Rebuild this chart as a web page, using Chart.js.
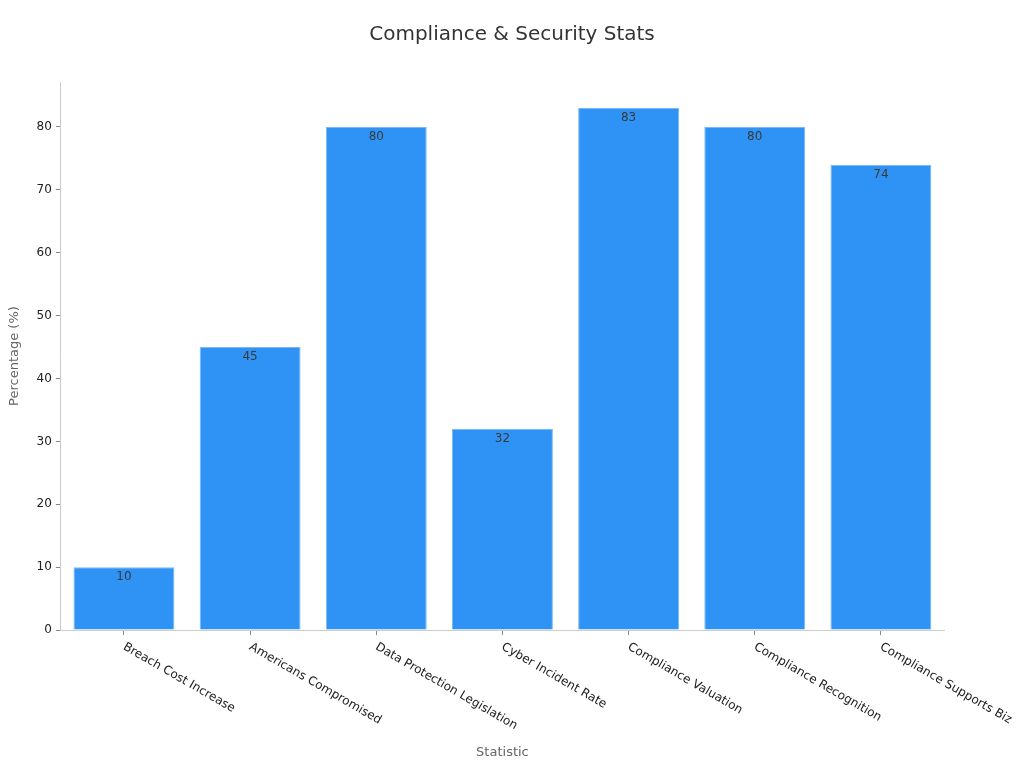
<!DOCTYPE html>
<html>
<head>
<meta charset="utf-8">
<script src="https://cdn.jsdelivr.net/npm/chart.js@4.4.1/dist/chart.umd.min.js"></script>
<style>
  html, body { margin: 0; padding: 0; background: #fff; }
  #wrap { width: 1024px; height: 768px; }
</style>
</head>
<body>
<div id="wrap"><canvas id="chart"></canvas></div>
<script>
const categories = [
  'Breach Cost Increase',
  'Americans Compromised',
  'Data Protection Legislation',
  'Cyber Incident Rate',
  'Compliance Valuation',
  'Compliance Recognition',
  'Compliance Supports Biz'
];
const percentages = [10, 45, 80, 32, 83, 80, 74];
const chartTitle = 'Compliance & Security Stats';

const FONT = '"DejaVu Sans", sans-serif';

// value labels just under the top of each bar
const valueLabels = {
  id: 'valueLabels',
  afterDatasetsDraw(chart) {
    const c = chart.ctx;
    const meta = chart.getDatasetMeta(0);
    c.save();
    c.font = '12px ' + FONT;
    c.fillStyle = '#3a3a3a';
    c.textAlign = 'center';
    c.textBaseline = 'middle';
    meta.data.forEach((bar, i) => {
      c.fillText(String(percentages[i]), bar.x, bar.y + 10);
    });
    c.restore();
  }
};

// x labels slanted down to the right, starting at the tick;
// title centred on the whole canvas
const extraText = {
  id: 'extraText',
  afterDraw(chart) {
    const x = chart.scales.x;
    const c = chart.ctx;
    c.save();
    c.font = '12px ' + FONT;
    c.fillStyle = '#222';
    c.textAlign = 'left';
    c.textBaseline = 'middle';
    categories.forEach((lab, i) => {
      const px = x.getPixelForTick(i);
      c.save();
      c.translate(px, x.top + 16);
      c.rotate(Math.PI / 6);
      c.fillText(lab, 0, 0);
      c.restore();
    });
    const tb = chart.titleBlock;
    c.font = '20px ' + FONT;
    c.fillStyle = '#333';
    c.textAlign = 'center';
    c.fillText(chartTitle, chart.width / 2, tb.top + 25);
    c.restore();
  }
};

new Chart(document.getElementById('chart'), {
  type: 'bar',
  data: {
    labels: categories,
    datasets: [{
      data: percentages,
      backgroundColor: '#2f93f5',
      borderColor: '#78b8f7',
      borderWidth: 1,
      barPercentage: 0.8,
      categoryPercentage: 1.0
    }]
  },
  options: {
    responsive: true,
    maintainAspectRatio: false,
    animation: false,
    layout: { padding: { left: 7, right: 80, top: 10, bottom: 8 } },
    plugins: {
      legend: { display: false },
      tooltip: { enabled: false },
      title: {
        display: true,
        text: chartTitle,
        color: 'transparent',
        font: { family: FONT, size: 20, weight: 'normal' },
        padding: { top: 12, bottom: 36 }
      }
    },
    scales: {
      x: {
        grid: { offset: false, drawOnChartArea: false, drawTicks: true, tickLength: 5, tickColor: '#888' },
        border: { color: '#ccc' },
        ticks: {
          color: 'transparent',
          minRotation: 30,
          maxRotation: 30,
          font: { family: FONT, size: 12 }
        },
        title: {
          display: true,
          text: 'Statistic',
          color: '#666',
          font: { family: FONT, size: 13 },
          padding: { top: 10, bottom: 0 }
        }
      },
      y: {
        min: 0,
        max: 87.15,
        afterBuildTicks: s => { s.ticks = s.ticks.filter(t => t.value % 10 === 0); },
        grid: { drawOnChartArea: false, drawTicks: true, tickLength: 5, tickColor: '#888' },
        border: { color: '#ccc' },
        ticks: {
          stepSize: 10,
          color: '#222',
          padding: 4,
          font: { family: FONT, size: 12 }
        },
        title: {
          display: true,
          text: 'Percentage (%)',
          color: '#666',
          font: { family: FONT, size: 13 },
          padding: { top: 0, bottom: 10 }
        }
      }
    }
  },
  plugins: [valueLabels, extraText]
});
</script>
</body>
</html>
